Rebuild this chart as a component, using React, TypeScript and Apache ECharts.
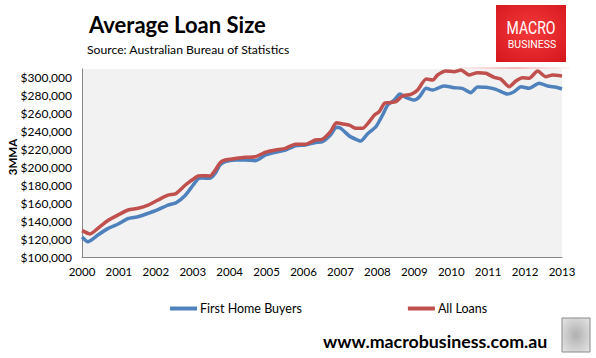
import React, { useEffect, useRef } from "react";
import * as echarts from "echarts";

const yearTicks = [2000, 2001, 2002, 2003, 2004, 2005, 2006, 2007, 2008, 2009, 2010, 2011, 2012, 2013];

const fhbDates = [
  2000.0, 2000.16, 2000.43, 2000.71, 2000.98, 2001.25, 2001.52, 2001.79, 2002.06, 2002.33,
  2002.55, 2002.8, 2003.01, 2003.15, 2003.25, 2003.47, 2003.61, 2003.74, 2003.88, 2004.15,
  2004.42, 2004.69, 2004.97, 2005.24, 2005.51, 2005.78, 2006.05, 2006.32, 2006.51, 2006.73,
  2006.89, 2007.01, 2007.24, 2007.42, 2007.55, 2007.73, 2007.96, 2008.14, 2008.28, 2008.46,
  2008.61, 2008.77, 2009.0, 2009.14, 2009.32, 2009.5, 2009.8, 2010.08, 2010.3, 2010.53,
  2010.71, 2010.94, 2011.21, 2011.52, 2011.7, 2011.89, 2012.11, 2012.38, 2012.61, 2012.84, 2013.0,
];
const fhbValues = [
  122300, 117000, 124600, 132000, 136900, 143000, 145000, 148800, 153000, 158000,
  160700, 169000, 180400, 187500, 188300, 187900, 193500, 202800, 206500, 208300,
  208300, 207600, 214000, 217000, 219500, 224300, 225000, 228000, 228800, 236300,
  244900, 243700, 235200, 231500, 229600, 237400, 245500, 258600, 269800, 275400,
  282000, 278400, 275400, 279000, 288400, 286500, 291000, 289100, 288400, 283500,
  289900, 289600, 287300, 282000, 284600, 290200, 288400, 294000, 291000, 289600, 287700,
];

const allDates = [
  2000.0, 2000.22, 2000.43, 2000.71, 2000.98, 2001.25, 2001.52, 2001.79, 2002.06, 2002.33,
  2002.55, 2002.8, 2003.01, 2003.15, 2003.25, 2003.47, 2003.61, 2003.74, 2003.88, 2004.15,
  2004.42, 2004.69, 2004.97, 2005.24, 2005.51, 2005.78, 2006.05, 2006.32, 2006.51, 2006.73,
  2006.89, 2007.06, 2007.24, 2007.42, 2007.6, 2007.78, 2007.92, 2008.05, 2008.19, 2008.32,
  2008.5, 2008.68, 2008.91, 2009.09, 2009.32, 2009.5, 2009.63, 2009.85, 2010.08, 2010.26,
  2010.48, 2010.71, 2010.94, 2011.16, 2011.34, 2011.57, 2011.75, 2011.93, 2012.11, 2012.34,
  2012.56, 2012.75, 2013.0,
];
const allValues = [
  129400, 125700, 132000, 141000, 147000, 152500, 154400, 158000, 163700, 169000,
  171000, 180400, 186800, 190500, 190800, 190500, 197000, 205300, 208300, 210000,
  211400, 212000, 217000, 219500, 221400, 226000, 225900, 230700, 231500, 240000,
  250000, 248600, 247400, 243700, 243700, 251100, 258600, 262300, 271700, 272400,
  273500, 279800, 281700, 286500, 298800, 297700, 303300, 307800, 307000, 308900,
  303300, 305900, 305200, 300700, 298800, 290200, 296600, 300300, 299600, 307800,
  301400, 303300, 302200,
];

const seriesNames = ["First Home Buyers", "All Loans"];
const seriesColors = ["#4F81BD", "#C0504D"];

const FONT = "Lato, 'Open Sans', sans-serif";

export default function App() {
  const ref = useRef<HTMLDivElement>(null);
  useEffect(() => {
    if (!ref.current) return;
    const chart = echarts.init(ref.current, null, { renderer: "svg" });
    const fhbData = fhbDates.map((d, i) => [d, fhbValues[i]]);
    const allData = allDates.map((d, i) => [d, allValues[i]]);
    chart.setOption({
      animation: false,
      backgroundColor: "#ffffff",
      textStyle: { fontFamily: FONT },
      grid: {
        left: 82,
        right: 34,
        top: 69,
        bottom: 101,
        show: true,
        backgroundColor: "#F2F2F2",
        borderWidth: 0,
      },
      legend: {
        left: 170,
        top: 302,
        padding: 0,
        itemGap: 106,
        itemWidth: 27,
        itemHeight: 4,
        icon: "rect",
        textStyle: { fontFamily: FONT, fontSize: 12.5, color: "#000", padding: [0, 0, 0, -2] },
        data: seriesNames,
      },
      xAxis: {
        type: "value",
        min: yearTicks[0],
        max: yearTicks[yearTicks.length - 1],
        interval: 1,
        axisLine: { show: true, lineStyle: { color: "#868686", width: 1 } },
        axisTick: { show: false },
        splitLine: { show: false },
        axisLabel: {
          color: "#000",
          fontSize: 11.5,
          fontFamily: FONT,
          margin: 8,
          formatter: (v: number) => String(Math.round(v)),
        },
      },
      yAxis: {
        type: "value",
        min: 100000,
        max: 310000,
        interval: 20000,
        axisLine: { show: true, lineStyle: { color: "#868686", width: 1 } },
        axisTick: { show: false },
        splitLine: { show: false },
        axisLabel: {
          color: "#000",
          fontSize: 12,
          fontFamily: FONT,
          margin: 10,
          formatter: (v: number) => (v > 300000 ? "" : "$" + v.toLocaleString("en-US")),
        },
      },
      series: [
        {
          name: seriesNames[0],
          type: "line",
          data: fhbData,
          showSymbol: false,
          smooth: 0.2,
          lineStyle: { color: seriesColors[0], width: 3.5 },
          itemStyle: { color: seriesColors[0] },
          z: 2,
        },
        {
          name: seriesNames[1],
          type: "line",
          data: allData,
          showSymbol: false,
          smooth: 0.2,
          lineStyle: { color: seriesColors[1], width: 3.5 },
          itemStyle: { color: seriesColors[1] },
          z: 3,
        },
      ],
      graphic: [
        {
          type: "text",
          left: 89,
          top: 13,
          style: {
            text: "Average Loan Size",
            font: "bold 22px " + FONT,
            fill: "#000",
          },
        },
        {
          type: "text",
          left: 87,
          top: 43,
          style: {
            text: "Source: Australian Bureau of Statistics",
            font: "12.2px " + FONT,
            fill: "#000",
          },
        },
        {
          type: "text",
          x: 12,
          y: 157,
          rotation: Math.PI / 2,
          style: {
            text: "3MMA",
            font: "bold 11.5px " + FONT,
            fill: "#000",
            align: "center",
            verticalAlign: "middle",
          },
        },
        {
          type: "rect",
          shape: { x: 496, y: 5, width: 70, height: 57 },
          style: {
            fill: new echarts.graphic.RadialGradient(0.5, 0.45, 0.75, [
              { offset: 0, color: "#F4393C" },
              { offset: 1, color: "#D3161C" },
            ]),
          },
        },
        {
          type: "text",
          x: 531,
          y: 28,
          scaleX: 0.78,
          style: {
            text: "MACRO",
            font: "18px Roboto, sans-serif",
            fill: "#ffffff",
            align: "center",
            verticalAlign: "middle",
          },
        },
        {
          type: "text",
          x: 532,
          y: 44,
          style: {
            text: "BUSINESS",
            font: "10.5px Roboto, sans-serif",
            fill: "#ffffff",
            align: "center",
            verticalAlign: "middle",
          },
        },
        {
          type: "rect",
          shape: { x: 460, y: 67, width: 110, height: 2 },
          style: {
            fill: new echarts.graphic.LinearGradient(0, 0, 1, 0, [
              { offset: 0, color: "rgba(230,120,120,0.1)" },
              { offset: 0.5, color: "rgba(230,120,120,0.5)" },
              { offset: 1, color: "rgba(230,120,120,0.05)" },
            ]),
          },
        },
        {
          type: "text",
          left: 323,
          top: 332,
          style: {
            text: "www.macrobusiness.com.au",
            font: "bold 17.8px " + FONT,
            fill: "#000",
          },
        },
        {
          type: "rect",
          shape: { x: 562, y: 318, width: 28, height: 34 },
          style: {
            fill: new echarts.graphic.RadialGradient(0.5, 0.5, 0.7, [
              { offset: 0, color: "#B0B0B0" },
              { offset: 1, color: "#E6E6E6" },
            ]),
            stroke: "#8A8A8A",
            lineWidth: 1,
          },
        },
      ],
    });
    return () => chart.dispose();
  }, []);
  return (
    <div
      ref={ref}
      style={{ position: "fixed", left: 0, top: 0, width: 596, height: 358, background: "#fff" }}
    />
  );
}
